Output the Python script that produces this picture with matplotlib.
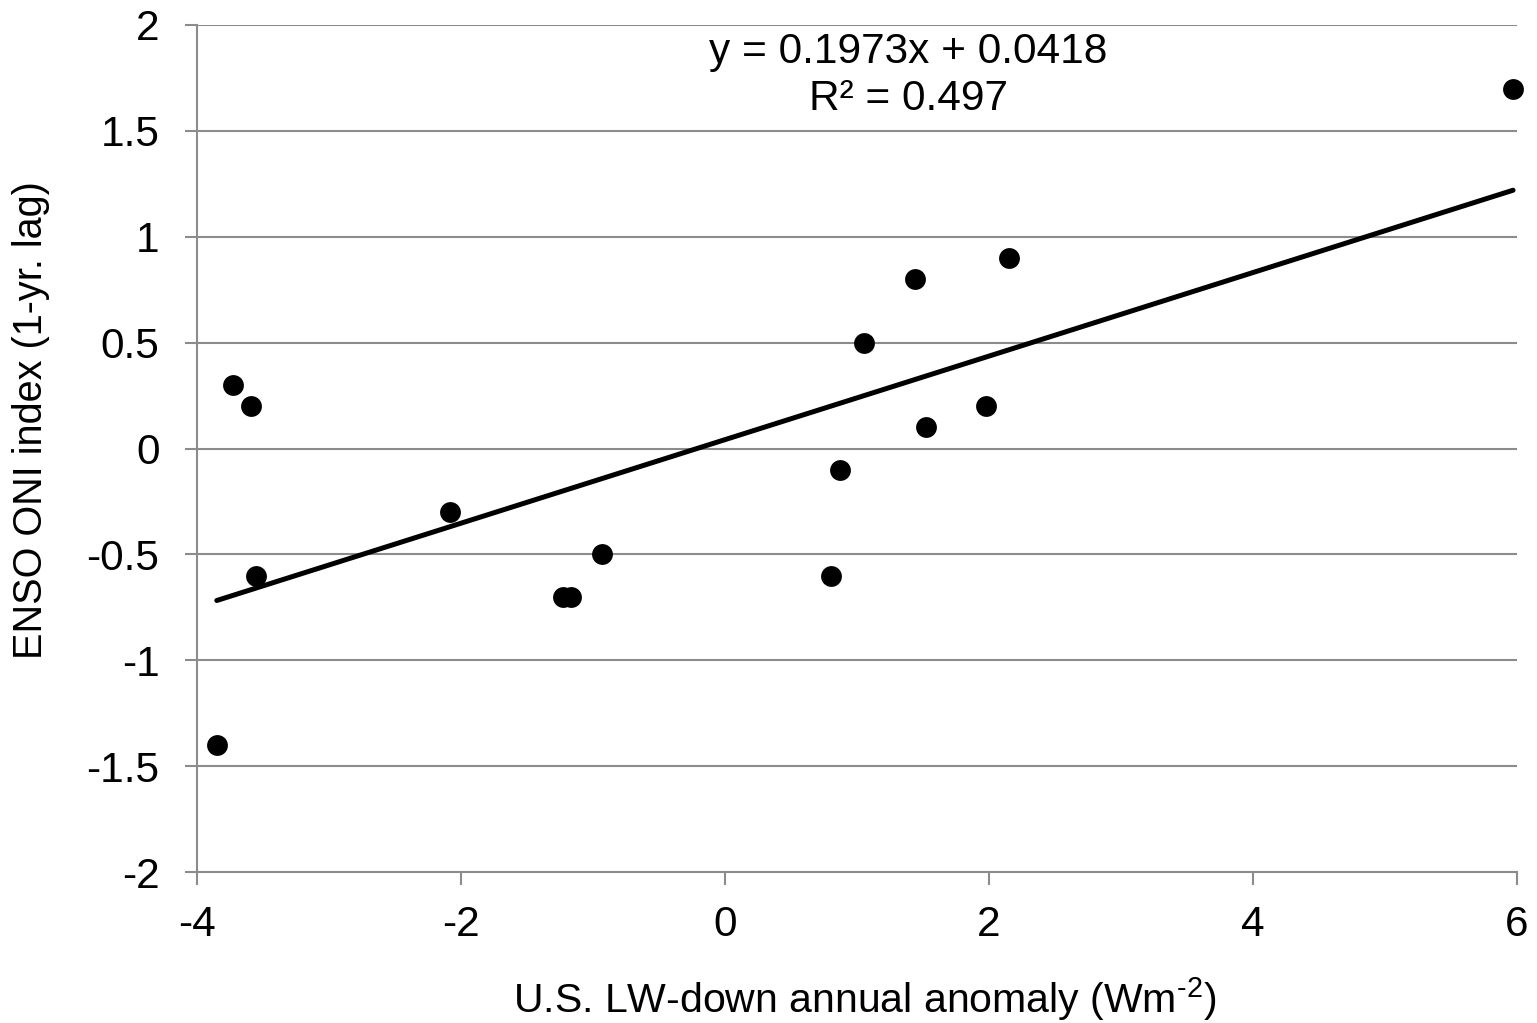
import matplotlib
matplotlib.use('Agg')
import matplotlib.pyplot as plt
import numpy as np

plt.rcParams['font.family'] = ['Liberation Sans', 'DejaVu Sans']
plt.rcParams['mathtext.fontset'] = 'custom'
plt.rcParams['mathtext.rm'] = 'Liberation Sans'
plt.rcParams['mathtext.it'] = 'Liberation Sans'
plt.rcParams['mathtext.bf'] = 'Liberation Sans:bold'

# LW-down anomaly vs ENSO ONI (1-yr lag)
lw_anomaly = [-3.85, -3.73, -3.59, -3.55, -2.08, -1.23, -1.17, -0.93,
              0.80, 0.87, 1.05, 1.44, 1.52, 1.98, 2.15, 5.97]
oni_index = [-1.4, 0.3, 0.2, -0.6, -0.3, -0.7, -0.7, -0.5,
             -0.6, -0.1, 0.5, 0.8, 0.1, 0.2, 0.9, 1.7]
slope = 0.1973
intercept = 0.0418
r_squared = 0.497

x_ticks = [-4, -2, 0, 2, 4, 6]
y_ticks = [-2, -1.5, -1, -0.5, 0, 0.5, 1, 1.5, 2]
y_labels = ['-2', '-1.5', '-1', '-0.5', '0', '0.5', '1', '1.5', '2']

grey = '#8c8c8c'

fig = plt.figure(figsize=(15.37, 10.23), dpi=100)
ax = fig.add_axes([197 / 1537, 1 - 872 / 1023, (1517 - 197) / 1537, (872 - 25) / 1023])

ax.set_xlim(-4, 6)
ax.set_ylim(-2, 2)

for yv in y_ticks:
    ax.axhline(yv, color=grey, lw=1.5, zorder=1)

line_x = np.array([min(lw_anomaly), max(lw_anomaly)])
ax.plot(line_x, slope * line_x + intercept, color='black', lw=3.6,
        solid_capstyle='round', zorder=2)
ax.scatter(lw_anomaly, oni_index, s=225, color='black', zorder=3,
           linewidths=0, clip_on=False)

# trendline equation, two lines centred above the data
ax.text(1.39, 1.8205, 'y = %.4fx + %.4f' % (slope, intercept),
        ha='center', va='baseline', fontsize=30.5)
ax.text(1.39, 1.5986, 'R² = %.3f' % r_squared,
        ha='center', va='baseline', fontsize=30.5)

for side in ['top', 'right']:
    ax.spines[side].set_visible(False)
for side in ['left', 'bottom']:
    ax.spines[side].set_color(grey)
    ax.spines[side].set_linewidth(1.5)

ax.set_xticks(x_ticks)
ax.set_xticklabels([str(t) for t in x_ticks])
ax.set_yticks(y_ticks)
ax.set_yticklabels(y_labels)
ax.tick_params(axis='both', which='major', labelsize=30.5, color=grey,
               width=1.5, length=9, direction='out')
ax.tick_params(axis='x', pad=15)
ax.tick_params(axis='y', pad=18)

ax.set_xlabel(r'U.S. LW-down annual anomaly (Wm$^{\text{-2}}$)', fontsize=29.5)
ax.set_ylabel('ENSO ONI index (1-yr. lag)', fontsize=28.5)
ax.xaxis.set_label_coords(0.506, -0.122)
ax.yaxis.set_label_coords(-0.1114, 0.534)

fig.savefig('out.png', dpi=100)
